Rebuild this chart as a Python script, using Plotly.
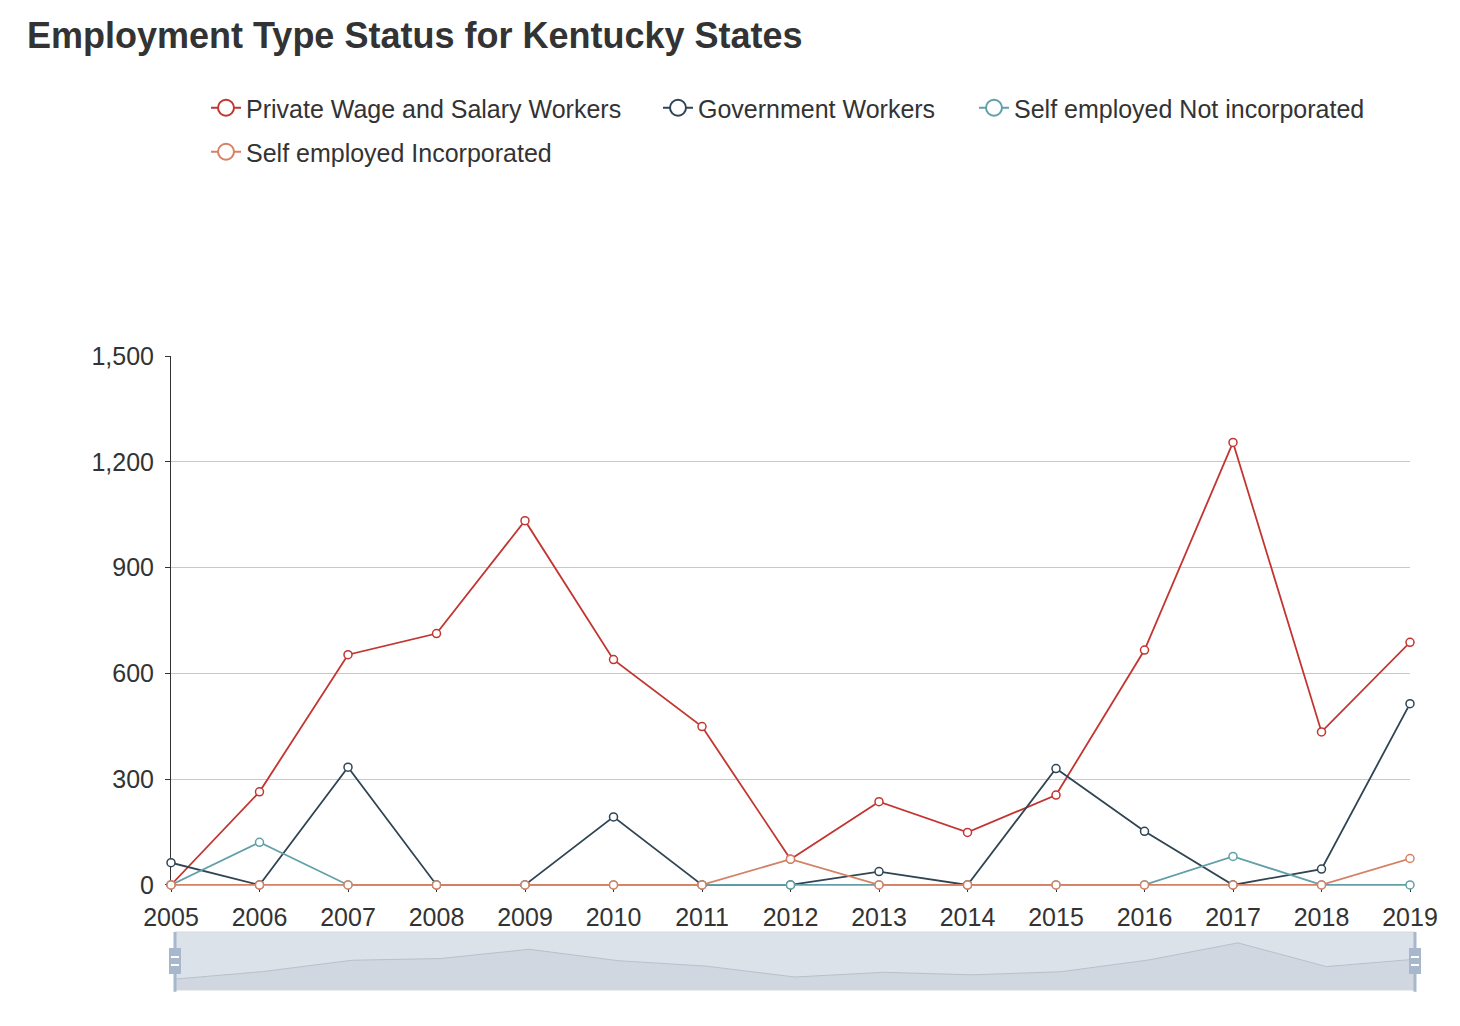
import plotly.graph_objects as go

years = [2005, 2006, 2007, 2008, 2009, 2010, 2011, 2012, 2013, 2014, 2015, 2016, 2017, 2018, 2019]
private_wage = [0, 264, 653, 713, 1033, 639, 449, 73, 236, 149, 255, 666, 1255, 434, 688]
government = [63, 0, 334, 0, 0, 193, 0, 0, 38, 0, 330, 152, 0, 45, 514]
self_not_inc = [0, 121, 0, 0, 0, 0, 0, 0, 0, 0, 0, 0, 81, 0, 0]
self_inc = [0, 0, 0, 0, 0, 0, 0, 73, 0, 0, 0, 0, 0, 0, 75]

series_names = ["Private Wage and Salary Workers", "Government Workers",
                "Self employed Not incorporated", "Self employed Incorporated"]
series_values = [private_wage, government, self_not_inc, self_inc]
colors = ["#c23531", "#2f4554", "#61a0a8", "#d48265"]
y_ticks = [0, 300, 600, 900, 1200, 1500]

FONT = "Liberation Sans, Arial, Helvetica, sans-serif"
TXT = "#333333"

# legend placement (pixels from left / top of the page)
legend_ids = ["legend", "legend2", "legend3", "legend4"]
legend_left = [206, 658, 974, 206]
legend_mid = [108, 108, 108, 152]

fig = go.Figure()

# legend entries (larger icons like the original)
for name, col, lid in zip(series_names, colors, legend_ids):
    fig.add_trace(go.Scatter(
        x=[None], y=[None], name=name, mode="lines+markers",
        line=dict(color=col, width=2),
        marker=dict(symbol="circle", size=16, color="white", line=dict(color=col, width=2)),
        showlegend=True, legend=lid, hoverinfo="skip"))

# main series
for name, vals, col in zip(series_names, series_values, colors):
    fig.add_trace(go.Scatter(
        x=years, y=vals, name=name, mode="lines+markers",
        line=dict(color=col, width=1.8),
        marker=dict(symbol="circle", size=8, color="white", line=dict(color=col, width=1.5)),
        cliponaxis=False, showlegend=False, xaxis="x", yaxis="y"))

# data-zoom slider shadow (first series)
pmax = max(private_wage)
lo, hi = -0.3 * pmax, 1.3 * pmax
fig.add_trace(go.Scatter(
    x=years, y=[lo] * len(years), mode="lines", line=dict(width=0, color="rgba(0,0,0,0)"),
    showlegend=False, hoverinfo="skip", xaxis="x2", yaxis="y2"))
fig.add_trace(go.Scatter(
    x=years, y=private_wage, mode="lines", fill="tonexty", fillcolor="#d0d7e0",
    line=dict(width=1, color="#b8c0ca"),
    showlegend=False, hoverinfo="skip", xaxis="x2", yaxis="y2"))

shapes = [
    # slider background
    dict(type="rect", xref="x2 domain", yref="y2 domain", x0=0, x1=1, y0=0, y1=1,
         fillcolor="#dce2ea", line=dict(color="#d6d9de", width=1), layer="below"),
]
for xa in (0, 1):
    shapes.append(dict(type="line", xref="x2 domain", yref="y2 domain", x0=xa, x1=xa,
                       y0=-0.03, y1=1.0, line=dict(color="#a7b7cc", width=3)))
    shapes.append(dict(type="rect", xref="x2 domain", yref="y2 domain",
                       xsizemode="pixel", xanchor=xa, x0=-6, x1=6,
                       ysizemode="pixel", yanchor=0.5, y0=-13, y1=13,
                       fillcolor="#a7b7cc", line=dict(width=0)))
    for dy in (-4, 4):
        shapes.append(dict(type="line", xref="x2 domain", yref="y2 domain",
                           xsizemode="pixel", xanchor=xa, x0=-4, x1=4,
                           ysizemode="pixel", yanchor=0.5, y0=dy, y1=dy,
                           line=dict(color="white", width=2)))

legend_layouts = {}
for lid, lx, ly in zip(legend_ids, legend_left, legend_mid):
    legend_layouts[lid] = dict(
        orientation="h", xref="container", yref="container",
        x=lx / 1460, xanchor="left", y=1 - ly / 1026, yanchor="middle",
        font=dict(family=FONT, size=25, color=TXT), itemwidth=30,
        bgcolor="rgba(0,0,0,0)")

fig.update_layout(
    width=1460, height=1026,
    paper_bgcolor="white", plot_bgcolor="white",
    margin=dict(l=171, r=45, t=356, b=36),
    font=dict(family=FONT, size=25, color=TXT),
    title=dict(text="Employment Type Status for Kentucky States",
               x=27 / 1460, xref="container", xanchor="left",
               y=1 - 35 / 1026, yref="container", yanchor="middle",
               font=dict(family=FONT, size=36, color=TXT, weight="bold")),
    xaxis=dict(domain=[0, 1239 / 1244], range=[years[0], years[-1]],
               tickmode="array", tickvals=years, ticktext=[str(y) for y in years],
               showgrid=False, zeroline=False, showline=False,
               ticks="outside", ticklen=5, tickcolor=TXT, ticklabelstandoff=4,
               tickfont=dict(size=25, color=TXT), fixedrange=True, layer="below traces"),
    yaxis=dict(domain=[104 / 634, 1], range=[-3, 1500], tickvals=y_ticks,
               tickformat=",d", showgrid=True, gridcolor="#c8c8c8", gridwidth=1,
               zeroline=False, showline=True, linecolor=TXT, linewidth=1,
               ticks="outside", ticklen=5, tickcolor=TXT, ticklabelstandoff=6,
               tickfont=dict(size=25, color=TXT), fixedrange=True, layer="below traces"),
    xaxis2=dict(domain=[4 / 1244, 1], range=[years[0], years[-1]], anchor="y2",
                visible=False, fixedrange=True),
    yaxis2=dict(domain=[0, 58 / 634], range=[lo, hi], anchor="x2",
                visible=False, fixedrange=True),
    shapes=shapes,
    hovermode=False,
    **legend_layouts,
)

fig.write_html("out.html")
